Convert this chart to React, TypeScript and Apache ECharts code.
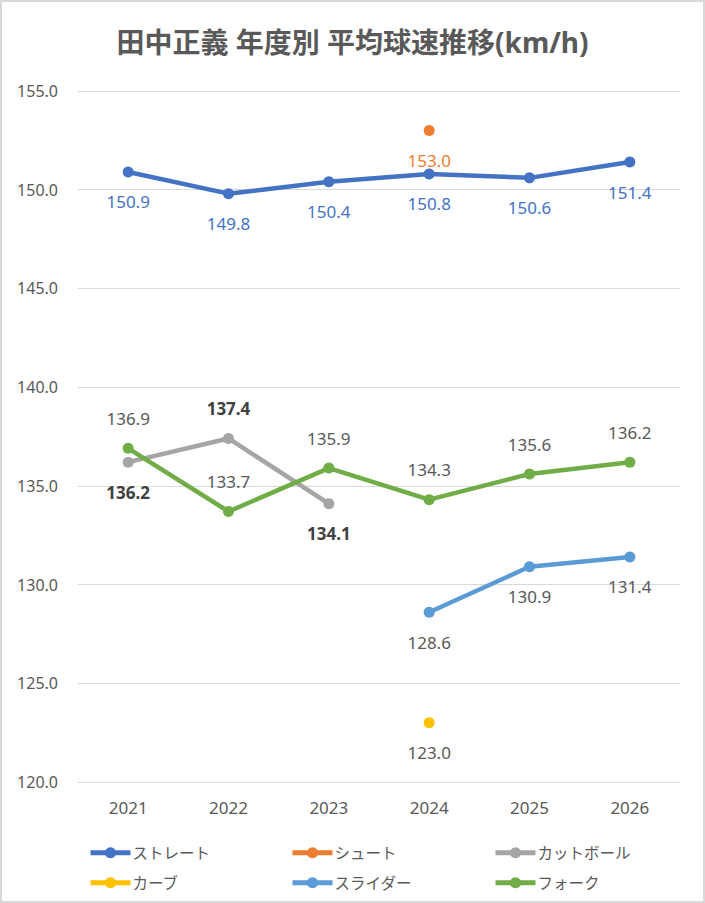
import React, { useEffect, useRef } from "react";
import * as echarts from "echarts";

const years = ["2021", "2022", "2023", "2024", "2025", "2026"];
const straight = [150.9, 149.8, 150.4, 150.8, 150.6, 151.4];
const shoot = [null, null, null, 153.0, null, null];
const cutball = [136.2, 137.4, 134.1, null, null, null];
const curve = [null, null, null, 123.0, null, null];
const slider = [null, null, null, 128.6, 130.9, 131.4];
const fork = [136.9, 133.7, 135.9, 134.3, 135.6, 136.2];

const seriesNames = ["ストレート", "シュート", "カットボール", "カーブ", "スライダー", "フォーク"];
const colors = ["#4472C4", "#ED7D31", "#A5A5A5", "#FFC000", "#5B9BD5", "#70AD47"];

const FONT = '"Noto Sans", "Noto Sans CJK JP", sans-serif';
const GRAY = "#595959";

export default function App() {
  const ref = useRef<HTMLDivElement>(null);
  useEffect(() => {
    document.body.style.margin = "0";
    if (!ref.current) return;
    const chart = echarts.init(ref.current, null, { renderer: "svg" });
    const fmt = (p: any) => (p.value == null ? "" : Number(p.value).toFixed(1));
    const lbl = (pos: string, color: string, bold = false) => ({
      show: true,
      position: pos,
      distance: 16,
      color,
      fontSize: 17,
      fontFamily: FONT,
      fontWeight: bold ? "bold" : "normal",
      formatter: fmt,
    });
    const mk = (idx: number, data: any[], label: any) => ({
      name: seriesNames[idx],
      type: "line",
      data,
      color: colors[idx],
      symbol: "circle",
      symbolSize: 11,
      lineStyle: { width: 4.5, color: colors[idx] },
      itemStyle: { color: colors[idx] },
      label,
      connectNulls: false,
    });
    const legendPos = [
      [88, 845],
      [290, 845],
      [493, 845],
      [88, 875],
      [290, 875],
      [493, 875],
    ];
    chart.setOption({
      animation: false,
      backgroundColor: "#ffffff",
      title: {
        text: "田中正義 年度別 平均球速推移(km/h)",
        left: "center",
        top: 23,
        textStyle: { fontSize: 28, fontWeight: "bold", color: GRAY, fontFamily: FONT },
      },
      legend: seriesNames.map((n, i) => ({
        data: [n],
        left: legendPos[i][0],
        top: legendPos[i][1],
        padding: 0,
        itemWidth: 40,
        itemHeight: 14,
        itemGap: 2,
        lineStyle: { width: 5 },
        textStyle: { fontSize: 15.5, color: GRAY, fontFamily: FONT, padding: [0, 0, 0, -3] },
      })),
      grid: { left: 78, right: 25, top: 91, bottom: 121 },
      xAxis: {
        type: "category",
        data: years,
        boundaryGap: true,
        axisLine: { show: true, lineStyle: { color: "#d9d9d9", width: 1 } },
        axisTick: { show: false },
        axisLabel: { color: GRAY, fontSize: 17, fontFamily: FONT, margin: 17 },
      },
      yAxis: {
        type: "value",
        min: 120,
        max: 155,
        interval: 5,
        axisLine: { show: false },
        axisTick: { show: false },
        splitLine: { lineStyle: { color: "#d9d9d9", width: 1 } },
        axisLabel: {
          color: GRAY,
          fontSize: 16,
          fontFamily: FONT,
          margin: 20,
          formatter: (v: number) => v.toFixed(1),
        },
      },
      series: [
        mk(0, straight, lbl("bottom", "#4472C4")),
        mk(1, shoot, lbl("bottom", "#ED7D31")),
        mk(
          2,
          cutball.map((v, i) => ({ value: v, label: { position: i === 1 ? "top" : "bottom" } })),
          lbl("bottom", "#404040", true)
        ),
        mk(3, curve, lbl("bottom", GRAY)),
        mk(4, slider, lbl("bottom", GRAY)),
        mk(5, fork, lbl("top", GRAY)),
      ],
    });
    return () => chart.dispose();
  }, []);
  return (
    <div style={{ position: "relative", width: 705, height: 903 }}>
      <div ref={ref} style={{ width: 705, height: 903 }} />
      <div
        style={{
          position: "absolute",
          left: 0,
          top: 0,
          width: 705,
          height: 903,
          boxSizing: "border-box",
          border: "2px solid #d9d9d9",
          pointerEvents: "none",
        }}
      />
    </div>
  );
}
